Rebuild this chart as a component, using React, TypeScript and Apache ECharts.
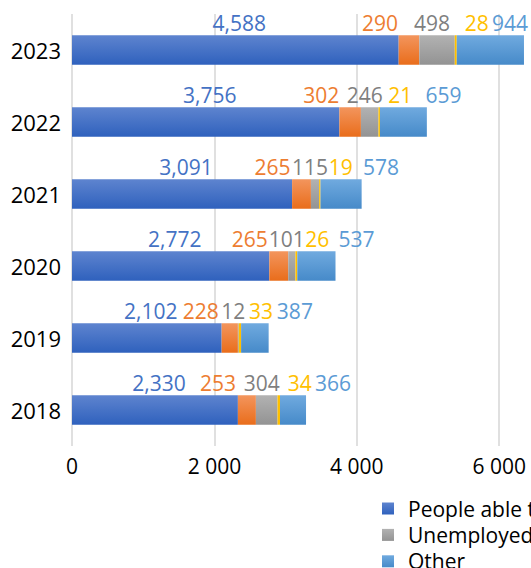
import React, { useEffect, useRef } from "react";
import * as echarts from "echarts";

const years = ["2018", "2019", "2020", "2021", "2022", "2023"];
const peopleAble = [2330, 2102, 2772, 3091, 3756, 4588];
const employed = [253, 228, 265, 265, 302, 290];
const unemployed = [304, 12, 101, 115, 246, 498];
const students = [34, 33, 26, 19, 21, 28];
const other = [366, 387, 537, 578, 659, 944];
const xTicks = [0, 2000, 4000, 6000, 8000];

const FONT = "Open Sans";

const grad = (top: string, bottom: string) =>
  new echarts.graphic.LinearGradient(0, 0, 0, 1, [
    { offset: 0, color: top },
    { offset: 1, color: bottom },
  ]);

export default function App() {
  const ref = useRef<HTMLDivElement>(null);
  useEffect(() => {
    if (!ref.current) return;
    const chart = echarts.init(ref.current, undefined, { renderer: "svg" });
    const W = 531;
    const mkLayout = (dx: number) => (params: any) => {
      const r = params.labelRect;
      const limit = W - 3;
      let d = dx;
      if (r.x + r.width + d > limit) d = limit - r.x - r.width;
      return { dx: d };
    };
    const mk = (
      name: string,
      data: number[],
      fill: any,
      labelColor: string,
      dx: number,
      comma: boolean
    ) => ({
      name,
      type: "bar",
      stack: "total",
      data,
      barWidth: 29.5,
      itemStyle: { color: fill },
      label: {
        show: true,
        position: "top",
        distance: 2,
        color: labelColor,
        fontFamily: FONT,
        fontSize: 21,
        formatter: (p: any) =>
          comma ? Number(p.value).toLocaleString("en-US") : String(p.value),
      },
      labelLayout: mkLayout(dx),
    });
    chart.setOption({
      animation: false,
      backgroundColor: "#fff",
      textStyle: { fontFamily: FONT },
      grid: { left: 72, width: 4 * 142.4, top: 14, height: 432, outerBoundsMode: "none", containLabel: false },
      xAxis: {
        type: "value",
        min: xTicks[0],
        max: xTicks[xTicks.length - 1],
        interval: 2000,
        axisLine: { show: false },
        axisTick: { show: false },
        splitLine: { show: true, lineStyle: { color: "#d9d9d9", width: 1.6 } },
        axisLabel: {
          margin: 9,
          color: "#000",
          fontFamily: FONT,
          fontSize: 21,
          showMaxLabel: false,
          formatter: (v: number) => String(v).replace(/\B(?=(\d{3})+(?!\d))/g, " "),
        },
      },
      yAxis: {
        type: "category",
        data: years,
        axisLine: { show: false },
        axisTick: { show: false },
        axisLabel: { margin: 11, color: "#000", fontFamily: FONT, fontSize: 22 },
      },
      legend: {
        orient: "vertical",
        left: 382,
        top: 498,
        height: 120,
        width: 400,
        padding: 0,
        itemWidth: 12,
        itemHeight: 12,
        itemGap: 5.4,
        icon: "rect",
        data: ["People able to work", "Unemployed persons", "Other"],
        textStyle: {
          color: "#000",
          fontFamily: FONT,
          fontSize: 21,
          lineHeight: 21,
          padding: [0, 0, 0, 9],
        },
      },
      series: [
        mk("People able to work", peopleAble, grad("#5e84cf", "#2f61bd"), "#4472c4", 4, true),
        mk("Employed", employed, grad("#f3955d", "#e96d1b"), "#ed7d31", -29, false),
        mk("Unemployed persons", unemployed, grad("#b2b2b2", "#939393"), "#7f7f7f", -5, false),
        mk("Students", students, "#ffc000", "#ffc000", 21, false),
        mk("Other", other, grad("#70aadf", "#468ac9"), "#5b9bd5", 40, false),
      ],
    });
    return () => chart.dispose();
  }, []);
  return (
    <div
      ref={ref}
      style={{ position: "absolute", left: 0, top: 0, width: 531, height: 568 }}
    />
  );
}
